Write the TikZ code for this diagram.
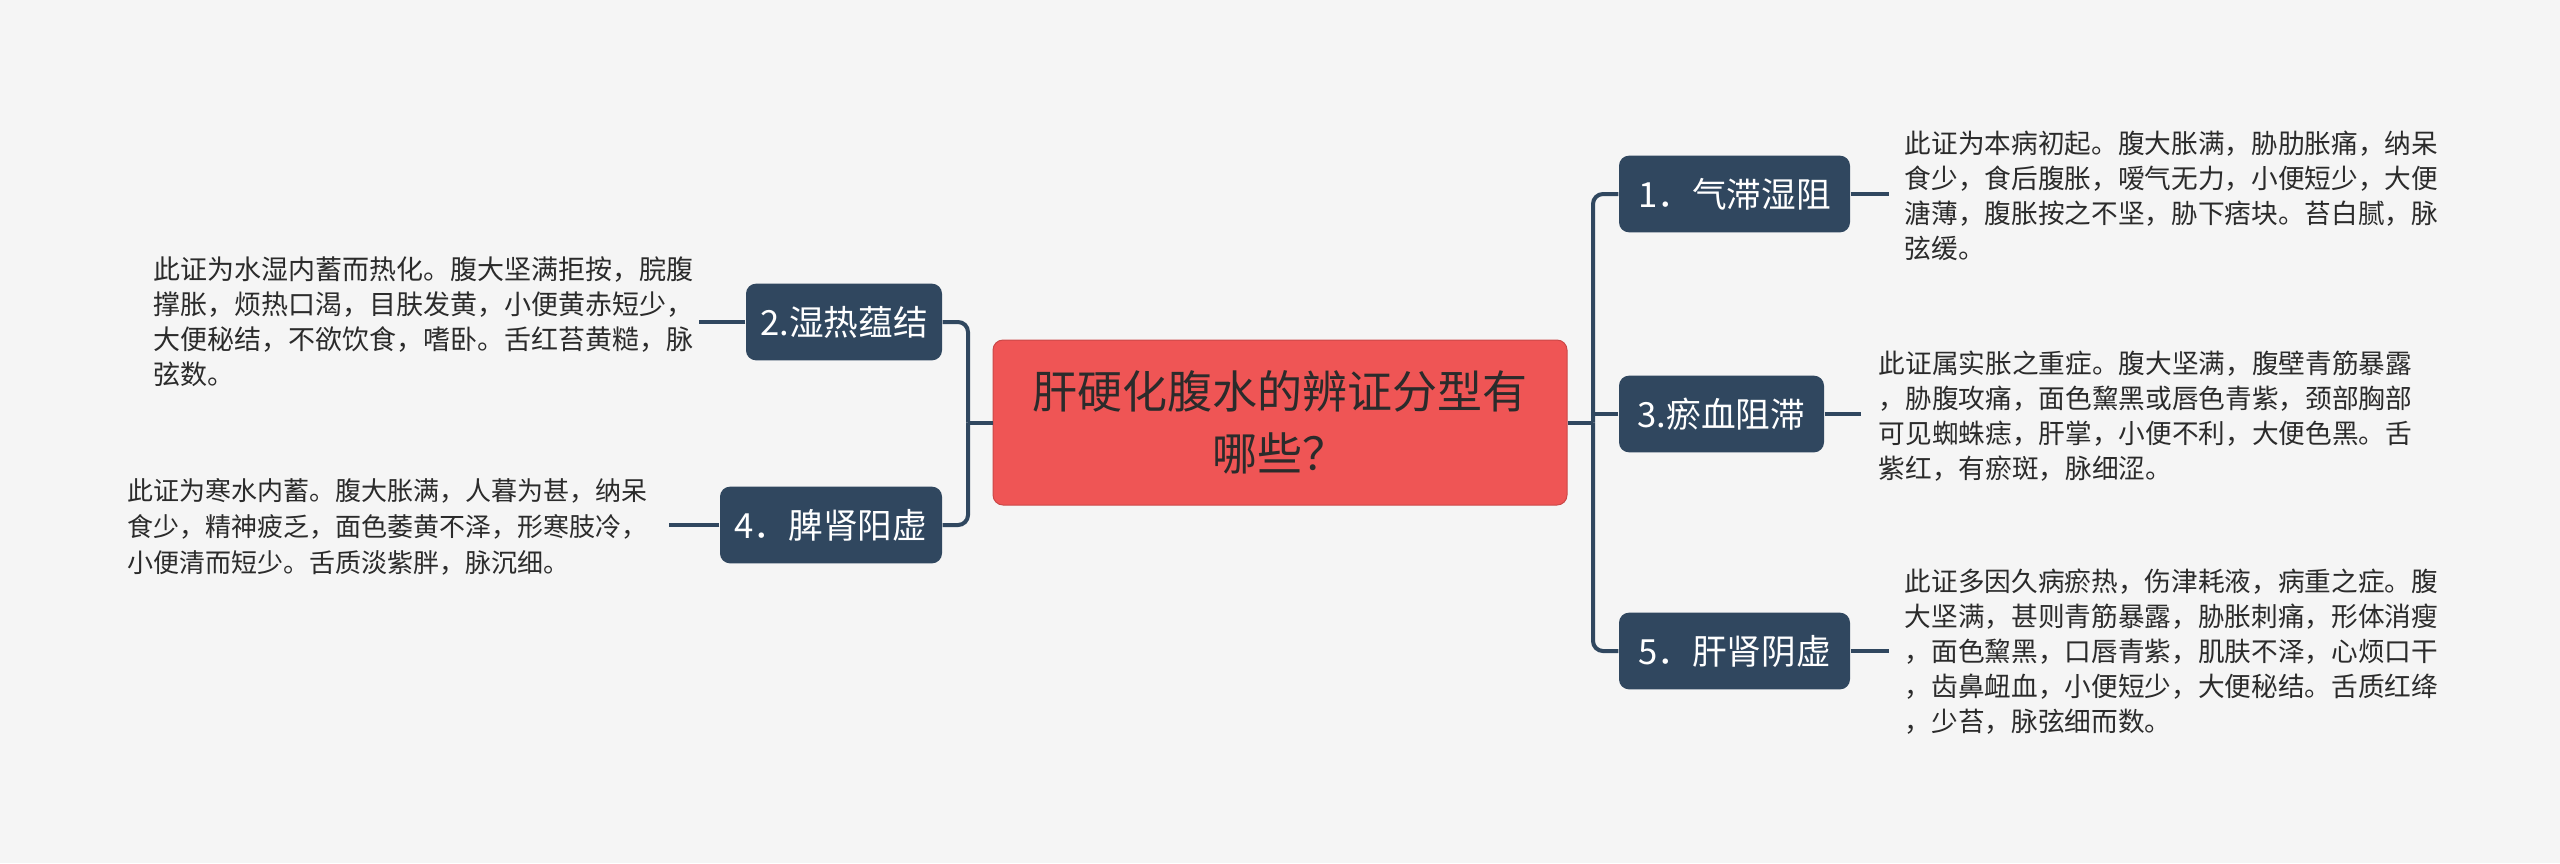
\documentclass[tikz,border=0pt]{standalone}
\usepackage{fontspec}
\setmainfont{Noto Sans CJK SC}
\definecolor{bg}{HTML}{F5F5F5}
\definecolor{rootred}{HTML}{EF5555}
\definecolor{navy}{HTML}{30475F}
\definecolor{txt}{HTML}{2B2B2B}
\tikzset{
  rootbox/.style={fill=rootred, draw=rootred!85!black, line width=0.3pt, rounded corners=3pt,
    minimum width=172.2pt, minimum height=49.5pt, align=center, inner sep=0pt,
    text=txt, font=\fontsize{13.5}{18.6}\selectfont},
  topic/.style={fill=navy, rounded corners=3pt, minimum height=23pt, inner sep=0pt,
    text=white, font=\fontsize{10.4}{12}\selectfont},
  desc/.style={align=left, text=txt, inner ysep=0pt, font=\fontsize{8}{10.5}\selectfont},
  conn/.style={draw=navy, line width=1.2pt, rounded corners=3pt}
}
\begin{document}
\begin{tikzpicture}[x=0.3pt, y=-0.3pt]
\useasboundingbox (0,0) rectangle (2560,863);
\fill[bg] (0,0) rectangle (2560,863);

\node[rootbox] (root) at (1280,422.5) {肝硬化腹水的辨证分型有\\哪些？};

\node[topic, minimum width=69.3pt] (b1) at (1734.5,194) {1．气滞湿阻};
\node[topic, minimum width=61.5pt] (b3) at (1721.5,414) {3.瘀血阻滞};
\node[topic, minimum width=69.3pt] (b5) at (1734.5,651) {5．肝肾阴虚};
\node[topic, minimum width=58.8pt] (b2) at (844,322) {2.湿热蕴结};
\node[topic, minimum width=66.6pt] (b4) at (831,525) {4．脾肾阳虚};

\node[desc, inner xsep=4.5pt, anchor=west] (t1) at (1889,196)
 {此证为本病初起。腹大胀满，胁肋胀痛，纳呆\\食少，食后腹胀，嗳气无力，小便短少，大便\\溏薄，腹胀按之不坚，胁下痞块。苔白腻，脉\\弦缓。};
\node[desc, inner xsep=5.1pt, anchor=west] (t3) at (1861,416)
 {此证属实胀之重症。腹大坚满，腹壁青筋暴露\\，胁腹攻痛，面色黧黑或唇色青紫，颈部胸部\\可见蜘蛛痣，肝掌，小便不利，大便色黑。舌\\紫红，有瘀斑，脉细涩。};
\node[desc, inner xsep=4.5pt, anchor=west] (t5) at (1889,652)
 {此证多因久病瘀热，伤津耗液，病重之症。腹\\大坚满，甚则青筋暴露，胁胀刺痛，形体消瘦\\，面色黧黑，口唇青紫，肌肤不泽，心烦口干\\，齿鼻衄血，小便短少，大便秘结。舌质红绛\\，少苔，脉弦细而数。};
\node[desc, inner xsep=1.5pt, anchor=east, font=\fontsize{8.1}{10.5}\selectfont] (t2) at (699,322)
 {此证为水湿内蓄而热化。腹大坚满拒按，脘腹\\撑胀，烦热口渴，目肤发黄，小便黄赤短少，\\大便秘结，不欲饮食，嗜卧。舌红苔黄糙，脉\\弦数。};
\node[desc, inner xsep=6.3pt, anchor=east, font=\fontsize{7.8}{10.8}\selectfont] (t4) at (669,527)
 {此证为寒水内蓄。腹大胀满，人暮为甚，纳呆\\食少，精神疲乏，面色萎黄不泽，形寒肢冷，\\小便清而短少。舌质淡紫胖，脉沉细。};

\coordinate (rt) at (1593,422.5);
\coordinate (lt) at (968,422.5);

\draw[conn] (root.east) -- (rt);
\draw[conn] (b1.west) -| (rt);
\draw[conn] (b5.west) -| (rt);
\draw[conn] (b3.west) -- (b3.west -| rt);
\draw[conn] (root.west) -- (lt);
\draw[conn] (b2.east) -| (lt);
\draw[conn] (b4.east) -| (lt);

\draw[conn] (b1.east) -- (b1.east -| t1.west);
\draw[conn] (b3.east) -- (b3.east -| t3.west);
\draw[conn] (b5.east) -- (b5.east -| t5.west);
\draw[conn] (b2.west) -- (b2.west -| t2.east);
\draw[conn] (b4.west) -- (b4.west -| t4.east);
\end{tikzpicture}
\end{document}
